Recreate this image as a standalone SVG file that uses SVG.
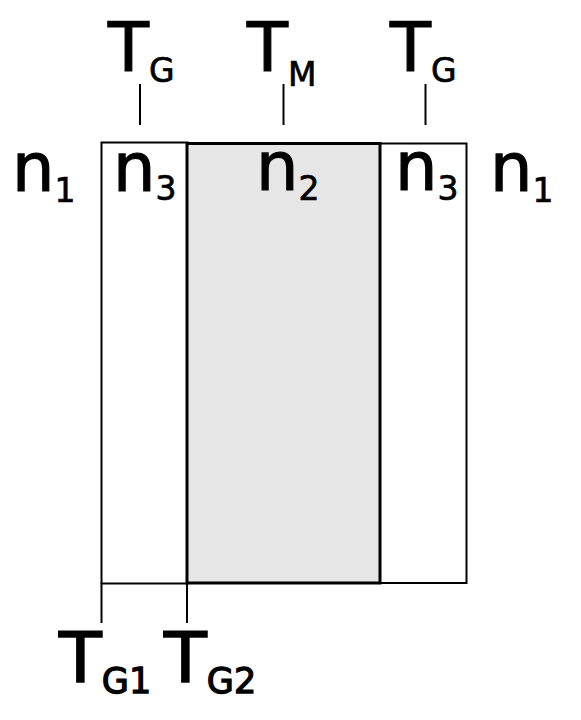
<svg xmlns="http://www.w3.org/2000/svg" width="581" height="720" viewBox="0 0 581 720">
<style>
.big{font-family:"DejaVu Sans",Verdana,sans-serif;font-size:67px;fill:#000;stroke:#000;stroke-width:1.2}
.sub{font-size:33px;stroke-width:0.7}
.bbig{font-family:"DejaVu Sans",Verdana,sans-serif;font-size:70px;fill:#000;stroke:#000;stroke-width:1.6}
.bsub{font-size:35px;stroke-width:1.3}
.ln{stroke:#000;stroke-width:2;fill:none}
</style>
<rect width="581" height="720" fill="#fff"/>
<g id="layer-left">
<rect x="101.5" y="142.5" width="86" height="441" fill="#fff" stroke="#000" stroke-width="2"/>
</g>
<g id="layer-right">
<rect x="380" y="143.5" width="86.5" height="439.5" fill="#fff" stroke="#000" stroke-width="2"/>
</g>
<g id="layer-middle">
<rect x="187" y="143.5" width="193" height="439.5" fill="#e6e6e6" stroke="#000" stroke-width="3"/>
</g>
<g id="connectors">
<line class="ln" x1="140" y1="84" x2="140" y2="125"/>
<line class="ln" x1="283.5" y1="84" x2="283.5" y2="125"/>
<line class="ln" x1="425.5" y1="84" x2="425.5" y2="125"/>
<line class="ln" x1="101.5" y1="583" x2="101.5" y2="623"/>
<line class="ln" x1="187" y1="583" x2="187" y2="623"/>
</g>
<g id="labels">
<text class="big" x="108" y="71">T<tspan class="sub" dy="10.5">G</tspan></text>
<text class="big" x="247" y="70.5">T<tspan class="sub" dy="15.5">M</tspan></text>
<text class="big" x="390" y="71">T<tspan class="sub" dy="10.5">G</tspan></text>
<text class="big" x="12" y="191">n<tspan class="sub" dy="11">1</tspan></text>
<text class="big" x="113" y="191">n<tspan class="sub" dy="9">3</tspan></text>
<text class="big" x="256" y="190">n<tspan class="sub" dy="10">2</tspan></text>
<text class="big" x="395" y="190">n<tspan class="sub" dy="10">3</tspan></text>
<text class="big" x="490" y="191">n<tspan class="sub" dy="11">1</tspan></text>
<text class="bbig" x="59" y="682">T<tspan class="bsub" dy="10.5">G1</tspan></text>
<text class="bbig" x="164" y="682">T<tspan class="bsub" dy="10.5">G2</tspan></text>
</g>
</svg>
